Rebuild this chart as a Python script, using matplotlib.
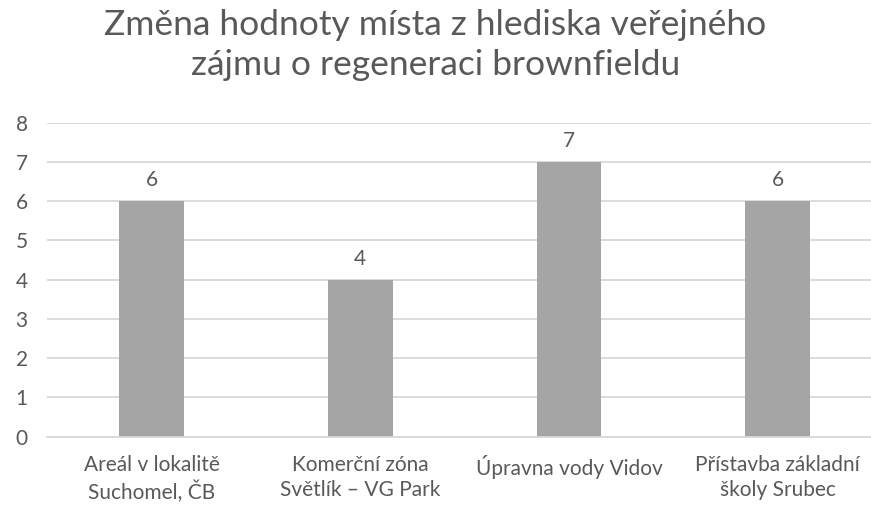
import numpy as np
import matplotlib.pyplot as plt

categories = ['Areál v lokalitě\nSuchomel, ČB',
              'Komerční zóna\nSvětlík – VG Park',
              'Úpravna vody Vidov',
              'Přístavba základní\nškoly Srubec']
values = [6, 4, 7, 6]
yticks = [0, 1, 2, 3, 4, 5, 6, 7, 8]

txt = '#595959'
grid = '#d9d9d9'

plt.rcParams['font.family'] = ['Lato', 'DejaVu Sans']

fig = plt.figure(figsize=(8.71, 5.08), dpi=100)
ax = fig.add_axes([0.0542, 0.1404, 0.9583, 0.618])

x = np.arange(len(categories))
bars = ax.bar(x, values, width=0.31, color='#a5a5a5', zorder=2)

for b, v in zip(bars, values):
    ax.annotate(str(v), (b.get_x() + b.get_width() / 2, v), xytext=(0, 8),
                textcoords='offset points', ha='center', va='bottom',
                fontsize=15, color=txt)

ax.set_xlim(-0.5, len(categories) - 0.5)
ax.set_ylim(0, 8)
ax.set_yticks(yticks)
ax.yaxis.grid(True, color=grid, linewidth=1.3, zorder=0)
ax.set_xticks(x)
ax.set_xticklabels(categories, fontsize=15, color=txt, linespacing=1.35)
ax.tick_params(axis='y', labelsize=15, labelcolor=txt, length=0, pad=14)
ax.tick_params(axis='x', length=0, pad=13)
for s in ['top', 'right', 'left']:
    ax.spines[s].set_visible(False)
ax.spines['bottom'].set_color(grid)
ax.spines['bottom'].set_linewidth(1.3)

fig.text(0.5, 1 - 35 / 508, 'Změna hodnoty místa z hlediska veřejného',
         ha='center', va='baseline', fontsize=25.5, color=txt)
fig.text(0.5, 1 - 75 / 508, 'zájmu o regeneraci brownfieldu',
         ha='center', va='baseline', fontsize=25.5, color=txt)

plt.savefig('out.png', dpi=100)
